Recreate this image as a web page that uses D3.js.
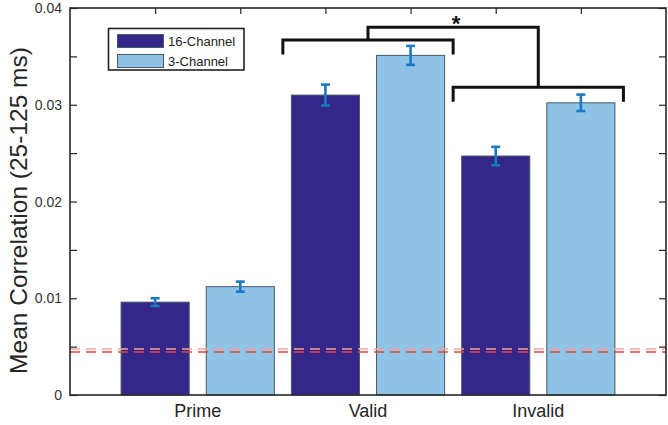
<!DOCTYPE html>
<html><head><meta charset="utf-8">
<script src="https://cdn.jsdelivr.net/npm/d3@7"></script>
<style>
html,body{margin:0;padding:0;background:#fff;}
text{font-family:"Liberation Sans",Arial,sans-serif;}
</style></head>
<body><svg id="c" width="668" height="425"></svg>
<script>
// ---- data ----
const categories = ["Prime", "Valid", "Invalid"];
const seriesNames = ["16-Channel", "3-Channel"];
const values16 = [0.0096, 0.0310, 0.0247];
const values3 = [0.0112, 0.0351, 0.0302];
const err16 = [0.0004, 0.00108, 0.00095];
const err3 = [0.00052, 0.00098, 0.00085];
const chanceLevels = [0.00475, 0.00444];
const yTicks = [0, 0.005, 0.01, 0.015, 0.02, 0.025, 0.03, 0.035, 0.04];
const yTickLabels = ["0", "", "0.01", "", "0.02", "", "0.03", "", "0.04"];
// significance brackets (x in bar-slot units, y in data units)
const brackets = [
  {x0: 2.5, x1: 4.5, top: 0.0367, leg: 0.0352},
  {x0: 4.5, x1: 6.5, top: 0.0318, leg: 0.0303}
];
const connectorTop = 0.0380;
const sigLabel = "*";

// ---- layout ----
const svg = d3.select("#c");
const L = 70, R = 666, T = 8, B = 395;
const colors = ["#35268a", "#8ec3e6"];
const errColor = "#1a78c4";

const bars = [];
categories.forEach((c, i) => {
  bars.push({slot: 2*i+1, v: values16[i], e: err16[i], s: 0});
  bars.push({slot: 2*i+2, v: values3[i], e: err3[i], s: 1});
});

const x = d3.scaleLinear().domain([0, 7]).range([L, R]);
const y = d3.scaleLinear().domain([0, 0.04]).range([B, T]);
const bw = x(0.8) - x(0);

// bottom ticks (under bars)
const gx = svg.append("g").attr("transform", `translate(0,${B})`)
  .call(d3.axisTop(x).tickValues(bars.map(b => b.slot)).tickSize(6).tickFormat(""));
gx.select(".domain").remove();
gx.selectAll("line").attr("stroke", "#262626").attr("stroke-width", 1.2);

// bars
svg.append("g").selectAll("rect").data(bars).join("rect")
  .attr("x", d => x(d.slot) - bw/2)
  .attr("y", d => y(d.v))
  .attr("width", bw)
  .attr("height", d => y(0) - y(d.v))
  .attr("fill", d => colors[d.s])
  .attr("stroke", "#4a5a66").attr("stroke-width", 1);

// chance lines
const chanceColors = ["#f4a49c", "#e2453c"];
svg.append("g").selectAll("line").data(chanceLevels).join("line")
  .attr("x1", L).attr("x2", R)
  .attr("y1", d => y(d)).attr("y2", d => y(d))
  .attr("stroke", (d, i) => chanceColors[i])
  .attr("stroke-width", 1.6)
  .attr("stroke-dasharray", "10,6");

// error bars
const eg = svg.append("g").attr("stroke", errColor).attr("stroke-width", 2.6);
bars.forEach(b => {
  const cx = x(b.slot);
  eg.append("line").attr("x1", cx).attr("x2", cx).attr("y1", y(b.v - b.e)).attr("y2", y(b.v + b.e));
  eg.append("line").attr("x1", cx-4.5).attr("x2", cx+4.5).attr("y1", y(b.v - b.e)).attr("y2", y(b.v - b.e));
  eg.append("line").attr("x1", cx-4.5).attr("x2", cx+4.5).attr("y1", y(b.v + b.e)).attr("y2", y(b.v + b.e));
});

// axes box
const gy = svg.append("g").attr("transform", `translate(${L},0)`)
  .call(d3.axisRight(y).tickValues(yTicks).tickSize(7).tickFormat(""));
gy.select(".domain").remove();
gy.selectAll("line").attr("stroke", "#262626").attr("stroke-width", 1.2);
const gyr = svg.append("g").attr("transform", `translate(${R},0)`)
  .call(d3.axisLeft(y).tickValues(yTicks).tickSize(7).tickFormat(""));
gyr.select(".domain").remove();
gyr.selectAll("line").attr("stroke", "#262626").attr("stroke-width", 1.2);
const gxt = svg.append("g").attr("transform", `translate(0,${T})`)
  .call(d3.axisBottom(x).tickValues(bars.map(b => b.slot)).tickSize(6).tickFormat(""));
gxt.select(".domain").remove();
gxt.selectAll("line").attr("stroke", "#262626").attr("stroke-width", 1.2);
svg.append("rect").attr("x", L).attr("y", T).attr("width", R-L).attr("height", B-T)
  .attr("fill", "none").attr("stroke", "#262626").attr("stroke-width", 1.6);

// y tick labels
svg.append("g").selectAll("text").data(yTicks).join("text")
  .attr("x", L - 8).attr("y", d => y(d)).attr("dy", "0.36em")
  .attr("text-anchor", "end").attr("font-size", 14).attr("fill", "#333")
  .text((d, i) => yTickLabels[i]);

// x category labels
svg.append("g").selectAll("text").data(categories).join("text")
  .attr("x", (d, i) => x(2*i + 1.5)).attr("y", 417)
  .attr("text-anchor", "middle").attr("font-size", 18).attr("fill", "#262626")
  .text(d => d);

// y axis title
svg.append("text").attr("transform", `translate(27,${(T+B)/2+9}) rotate(-90)`)
  .attr("text-anchor", "middle").attr("font-size", 24.5).attr("fill", "#262626")
  .text("Mean Correlation (25-125 ms)");

// brackets
const bg = svg.append("g").attr("fill", "none").attr("stroke", "#111").attr("stroke-width", 3);
brackets.forEach(b => {
  bg.append("path").attr("d", d3.line()([[x(b.x0), y(b.leg)], [x(b.x0), y(b.top)], [x(b.x1), y(b.top)], [x(b.x1), y(b.leg)]]));
});
const m0 = (brackets[0].x0 + brackets[0].x1)/2, m1 = (brackets[1].x0 + brackets[1].x1)/2;
bg.append("path").attr("d", d3.line()([[x(m0), y(brackets[0].top)], [x(m0), y(connectorTop)], [x(m1), y(connectorTop)], [x(m1), y(brackets[1].top)]]));
svg.append("text").attr("x", x((m0+m1)/2) + 3).attr("y", y(connectorTop) + 4)
  .attr("text-anchor", "middle").attr("font-size", 22).attr("font-weight", "bold").attr("fill", "#111")
  .text(sigLabel);

// legend
const lg = svg.append("g");
lg.append("rect").attr("x", 108.5).attr("y", 28.5).attr("width", 135.5).attr("height", 41.5)
  .attr("fill", "#fff").attr("stroke", "#222").attr("stroke-width", 1.6);
seriesNames.forEach((n, i) => {
  lg.append("rect").attr("x", 117.5).attr("y", 34.5 + i*20).attr("width", 46).attr("height", 13)
    .attr("fill", colors[i]).attr("stroke", "#4a5a66").attr("stroke-width", 1);
  lg.append("text").attr("x", 168).attr("y", 41 + i*20).attr("dy", "0.36em")
    .attr("font-size", 13).attr("fill", "#222").text(n);
});
</script></body></html>
